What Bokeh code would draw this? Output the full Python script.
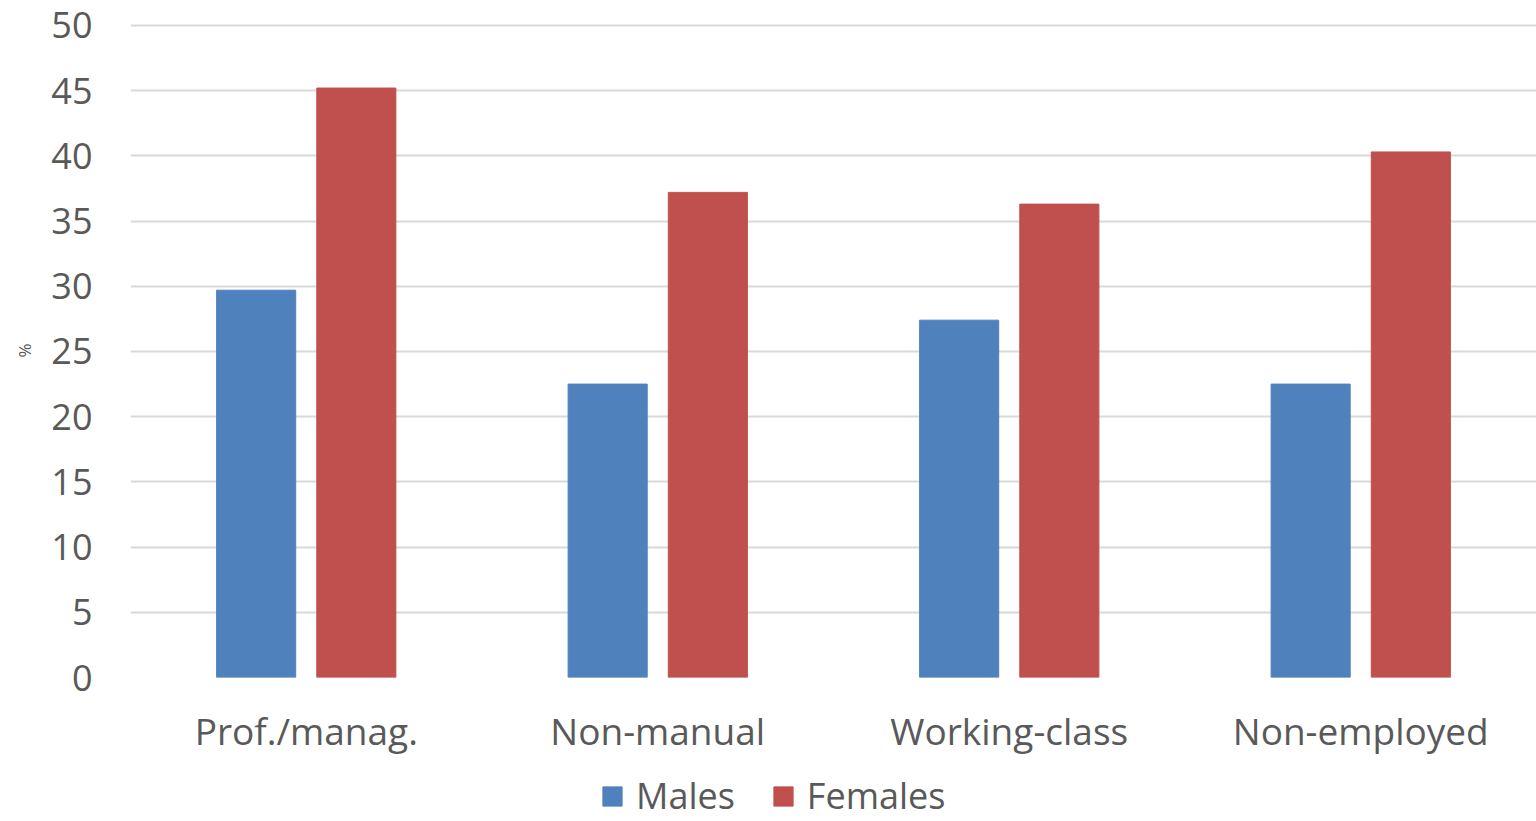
from bokeh.plotting import figure
from bokeh.models import ColumnDataSource, FixedTicker, Legend, LegendItem
from bokeh.layouts import column
from bokeh.transform import dodge
from bokeh.embed import file_html
from bokeh.resources import INLINE

categories = ["Prof./manag.", "Non-manual", "Working-class", "Non-employed"]
males = [29.7, 22.5, 27.4, 22.5]
females = [45.2, 37.2, 36.3, 40.3]
y_ticks = [0, 5, 10, 15, 20, 25, 30, 35, 40, 45, 50]
series_labels = ["Males", "Females"]

FONT = "Open Sans"
TXT = "#595959"
BLUE = "#4F81BD"
RED = "#C0504D"

src = ColumnDataSource(dict(cat=categories, males=males, females=females))

# ---- main chart ----
p = figure(x_range=categories, y_range=(0, 50.15), width=1536, height=764,
           output_backend="svg", toolbar_location=None,
           min_border_left=130, min_border_right=0, min_border_top=23, min_border_bottom=87)
p.outline_line_color = None
p.background_fill_color = "white"

p.vbar(x=dodge("cat", -0.1425, range=p.x_range), top="males", width=0.225,
       source=src, color=BLUE)
p.vbar(x=dodge("cat", 0.1425, range=p.x_range), top="females", width=0.225,
       source=src, color=RED)

p.yaxis.ticker = FixedTicker(ticks=y_ticks)
p.yaxis.axis_line_color = None
p.yaxis.major_tick_line_color = None
p.yaxis.major_tick_out = 0
p.yaxis.minor_tick_line_color = None
p.yaxis.minor_tick_out = 0
p.yaxis.major_label_text_font = FONT
p.yaxis.major_label_text_font_size = "36px"
p.yaxis.major_label_text_color = TXT
p.yaxis.major_label_standoff = 38
p.yaxis.axis_label = "%"
p.yaxis.axis_label_text_font = FONT
p.yaxis.axis_label_text_font_size = "17px"
p.yaxis.axis_label_text_font_style = "normal"
p.yaxis.axis_label_text_color = TXT
p.yaxis.axis_label_standoff = 12

p.xaxis.axis_line_color = None
p.xaxis.major_tick_line_color = None
p.xaxis.major_tick_out = 0
p.xaxis.minor_tick_line_color = None
p.xaxis.minor_tick_out = 0
p.xaxis.major_label_text_font = FONT
p.xaxis.major_label_text_font_size = "37px"
p.xaxis.major_label_text_color = TXT
p.xaxis.major_label_standoff = 27

p.xgrid.grid_line_color = None
p.ygrid.grid_line_color = "#D9D9D9"
p.ygrid.grid_line_width = 2
p.ygrid.level = "underlay"

# ---- legend strip ----
lg = figure(x_range=categories, y_range=(100, 200), width=1536, height=57,
            output_backend="svg", toolbar_location=None,
            x_axis_type=None, y_axis_type=None,
            min_border_left=0, min_border_right=0, min_border_top=0, min_border_bottom=0)
lg.outline_line_color = None
lg.xgrid.visible = False
lg.ygrid.visible = False
lr1 = lg.vbar(x="cat", top="males", width=0.225, source=src, color=BLUE)
lr2 = lg.vbar(x="cat", top="females", width=0.225, source=src, color=RED)

legend = Legend(items=[LegendItem(label=series_labels[0], renderers=[lr1]),
                       LegendItem(label=series_labels[1], renderers=[lr2])],
                orientation="horizontal", location=(470, 1))
legend.label_text_font = FONT
legend.label_text_font_size = "36px"
legend.label_text_color = TXT
legend.glyph_width = 24
legend.glyph_height = 24
legend.label_standoff = 12
legend.spacing = 36
legend.border_line_color = None
legend.background_fill_alpha = 0
legend.padding = 0
legend.margin = 0
lg.add_layout(legend, "center")

layout = column(p, lg, spacing=0)
open("out.html", "w").write(file_html(layout, INLINE))
